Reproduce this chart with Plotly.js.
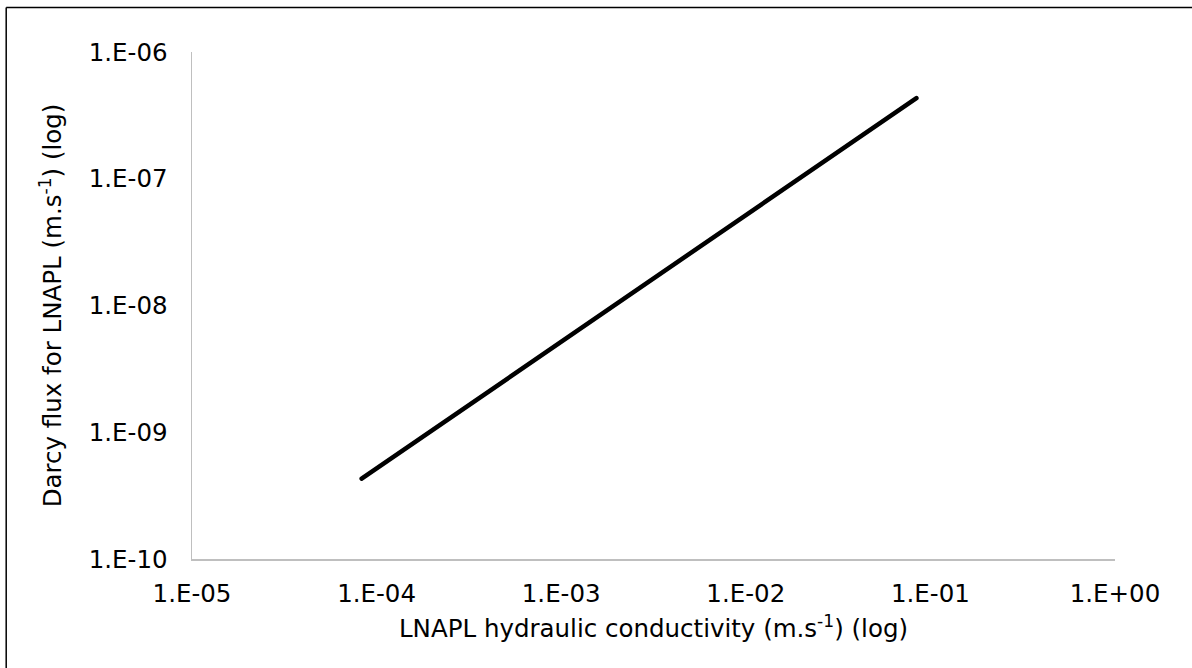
<!DOCTYPE html>
<html>
<head>
<meta charset="utf-8">
<script src="https://cdn.plot.ly/plotly-3.0.1.min.js"></script>
<style>
html,body{margin:0;padding:0;background:#fff;}
#chart{width:1192px;height:668px;}
.scatterlayer path.js-line{stroke-linecap:round;}
</style>
</head>
<body>
<div id="chart"></div>
<script>
// LNAPL hydraulic conductivity (m/s)
const conductivity = [8.3e-5, 8.4e-2];
// Darcy flux for LNAPL (m/s)
const darcyFlux = [4.3e-10, 4.33e-7];

const xTickVals = [1e-5, 1e-4, 1e-3, 1e-2, 1e-1, 1];
const xTickText = ['1.E-05', '1.E-04', '1.E-03', '1.E-02', '1.E-01', '1.E+00'];
const yTickVals = [1e-10, 1e-9, 1e-8, 1e-7, 1e-6];
const yTickText = ['1.E-10', '1.E-09', '1.E-08', '1.E-07', '1.E-06'];

const font = {family: 'DejaVu Sans, Verdana, sans-serif', size: 24.5, color: '#000'};

const trace = {
  x: conductivity,
  y: darcyFlux,
  type: 'scatter',
  mode: 'lines',
  line: {color: '#000', width: 4.5},
  hoverinfo: 'skip',
  showlegend: false
};

const layout = {
  width: 1192,
  height: 668,
  margin: {l: 192, r: 77, t: 52, b: 109},
  paper_bgcolor: '#fff',
  plot_bgcolor: '#fff',
  font: font,
  xaxis: {
    type: 'log',
    range: [-5, 0],
    tickvals: xTickVals,
    ticktext: xTickText,
    ticks: '',
    showgrid: false,
    zeroline: false,
    showline: true,
    linecolor: '#bfbfbf',
    linewidth: 1.5,
    ticklabelstandoff: 12,
    title: {text: 'LNAPL hydraulic conductivity (m.s<sup>-1</sup>) (log)', font: font, standoff: 13}
  },
  yaxis: {
    type: 'log',
    range: [-10, -6],
    tickvals: yTickVals,
    ticktext: yTickText,
    ticks: '',
    showgrid: false,
    zeroline: false,
    showline: true,
    linecolor: '#bfbfbf',
    linewidth: 1.5,
    ticklabelstandoff: 18,
    title: {text: 'Darcy flux for LNAPL (m.s<sup>-1</sup>) (log)', font: font, standoff: 20}
  },
  shapes: [
    {type: 'line', xref: 'paper', yref: 'paper', x0: -0.2013, x1: 1.2, y0: 1.0878, y1: 1.0878, line: {color: '#000', width: 1.5}},
    {type: 'line', xref: 'paper', yref: 'paper', x0: -0.2013, x1: -0.2013, y0: -0.3, y1: 1.0878, line: {color: '#000', width: 1.5}}
  ]
};

Plotly.newPlot('chart', [trace], layout, {displayModeBar: false, staticPlot: true});
</script>
</body>
</html>
